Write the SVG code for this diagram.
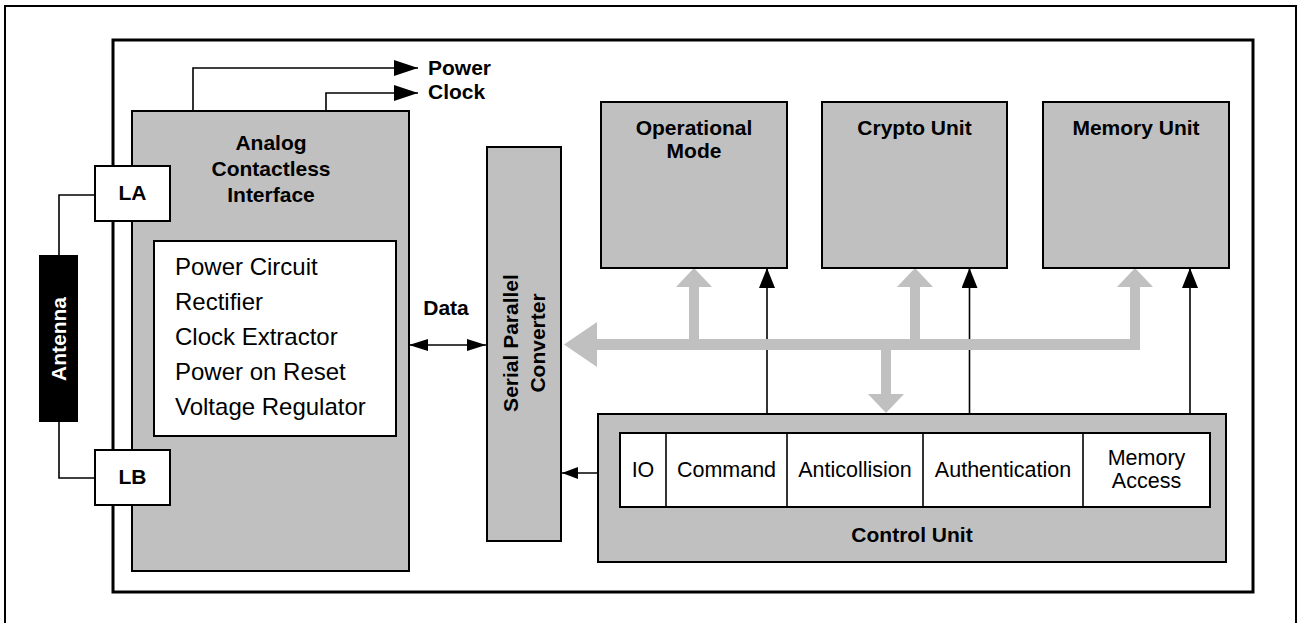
<svg xmlns="http://www.w3.org/2000/svg" width="1300" height="623" viewBox="0 0 1300 623">
<style>
.box{fill:#c0c0c0;stroke:#000;stroke-width:2}
.wbox{fill:#fff;stroke:#000;stroke-width:2}
.wire{fill:none;stroke:#000;stroke-width:1.6}
.bus{fill:#c0c0c0;stroke:none}
.b{font-family:"Liberation Sans",Arial,sans-serif;font-weight:bold;font-size:21px;fill:#000;text-anchor:middle}
.r{font-family:"Liberation Sans",Arial,sans-serif;font-size:24px;fill:#000}
.s{font-family:"Liberation Sans",Arial,sans-serif;font-size:21.5px;fill:#000;text-anchor:middle}
</style>
<defs>
<marker id="ah" markerWidth="20" markerHeight="16" refX="20" refY="8" orient="auto" markerUnits="userSpaceOnUse">
<path d="M0,0 L20,8 L0,16 Z" fill="#000"/>
</marker>
<marker id="ahL" markerWidth="24" markerHeight="16" refX="24" refY="8" orient="auto" markerUnits="userSpaceOnUse">
<path d="M0,0 L24,8 L0,16 Z" fill="#000"/>
</marker>
<marker id="ahS" markerWidth="19" markerHeight="12" refX="19" refY="6" orient="auto-start-reverse" markerUnits="userSpaceOnUse">
<path d="M0,0 L19,6 L0,12 Z" fill="#000"/>
</marker>
<marker id="ahI" markerWidth="16" markerHeight="12" refX="16" refY="6" orient="auto" markerUnits="userSpaceOnUse">
<path d="M0,0 L16,6 L0,12 Z" fill="#000"/>
</marker>
</defs>
<rect width="1300" height="623" fill="#fff"/>
<g id="frames">
<rect x="5" y="6" width="1291" height="630" fill="none" stroke="#000" stroke-width="2"/>
<rect x="113" y="40" width="1140" height="552" fill="none" stroke="#000" stroke-width="3"/>
</g>
<g id="connectors">
<polyline class="wire" points="193,111 193,68 418,68" marker-end="url(#ahL)"/>
<polyline class="wire" points="326,111 326,93 418,93" marker-end="url(#ahL)"/>
<polyline class="wire" points="95,195 59,195 59,255"/>
<polyline class="wire" points="95,478 59,478 59,422"/>
<line class="wire" x1="409" y1="345" x2="486" y2="345" marker-start="url(#ahS)" marker-end="url(#ahS)"/>
<line class="wire" x1="620" y1="473" x2="562" y2="473" marker-end="url(#ahI)"/>
<line class="wire" x1="767" y1="433" x2="767" y2="268" marker-end="url(#ah)"/>
<line class="wire" x1="969.5" y1="433" x2="969.5" y2="268" marker-end="url(#ah)"/>
<line class="wire" x1="1190" y1="433" x2="1190" y2="268" marker-end="url(#ah)"/>
<g id="bus">
<rect class="bus" x="596" y="339" width="544" height="11"/>
<polygon class="bus" points="564,344.5 597,322 597,367"/>
<rect class="bus" x="689" y="286" width="10" height="54"/>
<polygon class="bus" points="694,268 676,287 712,287"/>
<rect class="bus" x="910" y="286" width="10" height="54"/>
<polygon class="bus" points="915,268 897,287 933,287"/>
<rect class="bus" x="1130" y="286" width="10" height="54"/>
<polygon class="bus" points="1135,268 1117,287 1153,287"/>
<rect class="bus" x="881" y="349" width="10" height="46"/>
<polygon class="bus" points="868,394 904,394 886,413"/>
</g>
</g>
<g id="analog">
<rect class="box" x="132" y="111" width="277" height="460"/>
<text class="b" x="271" y="150">Analog</text>
<text class="b" x="271" y="176">Contactless</text>
<text class="b" x="271" y="202">Interface</text>
</g>
<g id="analog-functions">
<rect class="wbox" x="154" y="241" width="242" height="195"/>
<text class="r" x="175" y="275">Power Circuit</text>
<text class="r" x="175" y="310">Rectifier</text>
<text class="r" x="175" y="345">Clock Extractor</text>
<text class="r" x="175" y="380">Power on Reset</text>
<text class="r" x="175" y="415">Voltage Regulator</text>
</g>
<g id="la">
<rect class="wbox" x="95" y="166" width="75" height="55"/>
<text class="b" x="132.5" y="200">LA</text>
</g>
<g id="lb">
<rect class="wbox" x="95" y="450" width="75" height="55"/>
<text class="b" x="132.5" y="484">LB</text>
</g>
<g id="antenna">
<rect x="39" y="255" width="39" height="167" fill="#000"/>
<text class="b" transform="translate(66,339) rotate(-90)" style="fill:#fff">Antenna</text>
</g>
<g id="power-clock-labels">
<text class="b" x="428" y="75" style="text-anchor:start">Power</text>
<text class="b" x="428" y="99" style="text-anchor:start">Clock</text>
</g>
<g id="data-label">
<text class="b" x="446" y="315">Data</text>
</g>
<g id="converter">
<rect class="box" x="487" y="147" width="74" height="394"/>
<text class="b" transform="translate(518,343) rotate(-90)">Serial Parallel</text>
<text class="b" transform="translate(545,343) rotate(-90)">Converter</text>
</g>
<g id="operational-mode">
<rect class="box" x="601" y="102" width="186" height="166"/>
<text class="b" x="694" y="135">Operational</text>
<text class="b" x="694" y="158">Mode</text>
</g>
<g id="crypto-unit">
<rect class="box" x="822" y="102" width="185" height="166"/>
<text class="b" x="914.5" y="135">Crypto Unit</text>
</g>
<g id="memory-unit">
<rect class="box" x="1043" y="102" width="186" height="166"/>
<text class="b" x="1136" y="135">Memory Unit</text>
</g>
<g id="control-unit">
<rect class="box" x="598" y="414" width="628" height="148"/>
<text class="b" x="912" y="542">Control Unit</text>
<rect class="wbox" x="620" y="433" width="590" height="74"/>
<line class="wire" x1="666" y1="433" x2="666" y2="507"/>
<line class="wire" x1="787" y1="433" x2="787" y2="507"/>
<line class="wire" x1="923" y1="433" x2="923" y2="507"/>
<line class="wire" x1="1083" y1="433" x2="1083" y2="507"/>
<text class="s" x="643" y="477">IO</text>
<text class="s" x="726.5" y="477">Command</text>
<text class="s" x="855" y="477">Anticollision</text>
<text class="s" x="1003" y="477">Authentication</text>
<text class="s" x="1146.5" y="465">Memory</text>
<text class="s" x="1146.5" y="488">Access</text>
</g>
</svg>
